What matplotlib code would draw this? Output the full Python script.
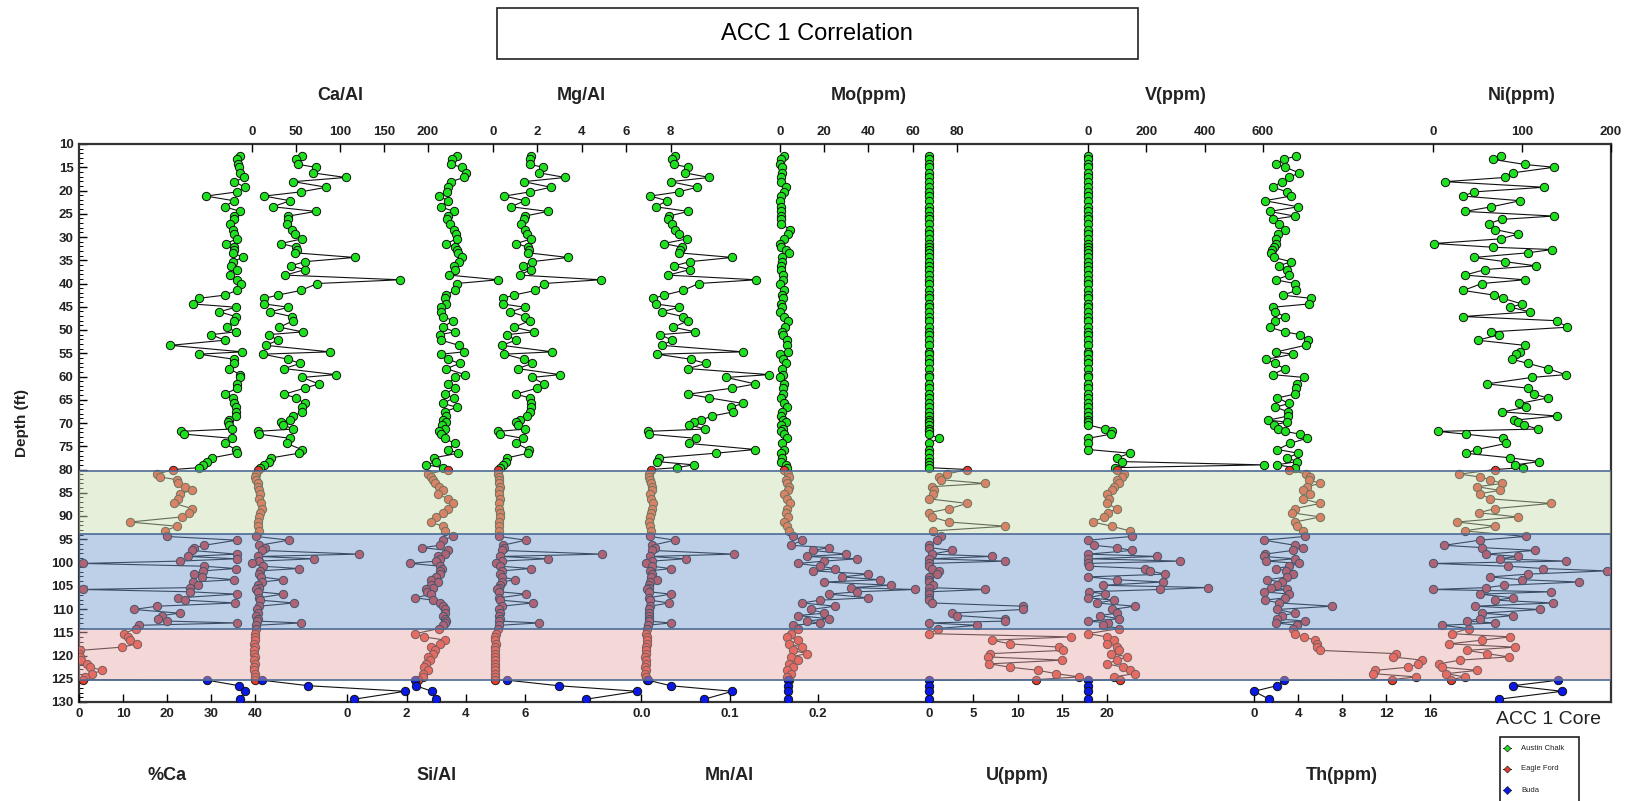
import matplotlib
matplotlib.use('Agg')
import matplotlib.pyplot as plt
from matplotlib.patches import Rectangle
from matplotlib.lines import Line2D
import matplotlib.transforms as mtransforms

plt.rcParams['font.family'] = ['Liberation Sans', 'DejaVu Sans']

# ---------------- data ----------------
# Austin Chalk (green) sample depths, ft
G_DEPTH = [12.6, 13.3, 14.4, 15.0, 16.2, 17.2, 18.1, 19.3, 20.3, 21.2, 22.2, 23.5,
           24.5, 25.5, 26.2, 27.1, 28.4, 29.4, 30.4, 31.4, 32.2, 32.7, 33.4, 34.4,
           35.3, 36.2, 37.0, 38.2, 39.2, 40.0, 41.5, 42.5, 43.2, 44.4, 45.1, 46.1,
           47.1, 48.0, 49.4, 50.4, 51.0, 52.2, 53.3, 54.7, 55.2, 56.3, 57.2, 58.3,
           59.6, 60.2, 61.6, 62.5, 63.8, 64.6, 65.8, 66.6, 67.6, 68.5, 69.4, 69.8,
           70.4, 71.3, 71.8, 72.4, 73.3, 74.4, 75.7, 76.5, 77.5, 78.3, 79.0, 79.6]
# Eagle Ford (red) sample depths
R_DEPTH = [80.0, 81.0, 81.6, 82.2, 83.0, 83.7, 84.5, 85.2, 86.3, 87.3, 88.4, 89.3, 90.2, 91.3, 92.2, 93.2,
           94.4, 95.2, 96.3, 96.8, 97.4, 98.2, 98.7, 99.2, 99.7, 100.2, 100.8, 101.3, 101.8, 102.5, 103.1, 103.7, 104.2,
           104.9, 105.4, 105.8, 106.3, 106.8, 107.6, 108.1, 108.7, 109.4, 110.1, 110.9, 111.4, 112.1, 112.6, 113.0, 113.5, 114.2,
           115.3, 116.0, 116.7, 117.5, 118.2, 118.9, 119.6, 120.3, 121.0, 121.8, 122.5, 123.2, 123.9, 124.6, 125.2]
# Buda (blue) sample depths
B_DEPTH = [125.3, 126.5, 127.7, 129.4]

CA_PCT_G = [36.4, 35.8, 36.1, 36.2, 36.4, 37.5, 35.2, 37.6, 35.8, 28.8, 35.1, 33.0,
            36.6, 35.2, 35.1, 34.3, 34.8, 35.2, 35.7, 33.4, 35.1, 35.2, 34.9, 37.2,
            34.8, 34.5, 35.8, 34.2, 35.8, 36.7, 35.8, 33.0, 27.1, 25.8, 35.5, 31.8,
            35.5, 35.2, 33.6, 35.5, 30.0, 33.0, 20.7, 37.0, 27.1, 35.2, 35.1, 33.9,
            36.6, 36.4, 35.7, 35.9, 33.0, 34.8, 35.1, 35.6, 35.6, 35.6, 34.1, 33.8,
            33.9, 34.7, 23.1, 23.9, 34.7, 33.0, 35.5, 35.7, 30.1, 29.0, 28.0, 27.3]
CA_PCT_R = [21.4, 17.7, 18.3, 22.2, 22.4, 24.0, 25.6, 22.8, 22.5, 21.6, 25.6, 25.0, 23.3, 11.5, 22.2, 19.4,
            19.9, 35.7, 28.4, 26.1, 25.5, 35.7, 24.8, 35.7, 22.8, 0.8, 28.4, 35.5, 28.0, 26.1, 27.8, 35.2, 25.9,
            27.0, 25.2, 0.8, 25.2, 35.7, 22.5, 24.0, 35.4, 17.7, 12.4, 22.8, 18.8, 18.0, 20.0, 35.7, 13.7, 13.0,
            10.1, 11.0, 11.5, 13.2, 9.8, 0.2, 0.0, 0.2, 0.5, 1.9, 2.5, 5.3, 3.0, 1.4, 0.8]
CA_PCT_B = [29.0, 36.3, 37.7, 36.6]

CA_AL_G = [57.1, 50.0, 52.6, 72.2, 68.8, 106.4, 47.0, 84.6, 55.3, 13.9, 43.2, 23.7,
           72.6, 41.4, 40.6, 39.5, 45.1, 48.9, 57.1, 32.7, 50.0, 50.8, 48.9, 116.5,
           60.2, 44.0, 60.2, 38.0, 168.4, 74.4, 55.3, 29.3, 13.9, 13.9, 41.4, 20.7,
           45.1, 47.0, 31.2, 57.5, 18.8, 29.3, 15.8, 88.3, 12.0, 41.4, 54.5, 36.5,
           95.1, 57.1, 75.9, 60.2, 36.5, 50.0, 60.2, 57.1, 57.1, 47.0, 43.2, 33.1,
           35.7, 47.0, 6.4, 8.3, 43.2, 39.5, 56.4, 53.0, 22.0, 19.3, 13.6, 9.0]
CA_AL_R = [6.8, 5.0, 3.4, 5.0, 6.8, 7.0, 8.0, 9.0, 8.0, 9.7, 10.8, 9.0, 8.0, 6.8, 6.8, 8.0,
           5.0, 42.0, 8.0, 14.8, 10.8, 121.6, 6.8, 70.5, 8.0, 0.0, 12.0, 53.0, 9.0, 8.0, 10.0, 35.0, 10.8,
           6.8, 8.0, 5.0, 7.0, 35.0, 8.0, 9.0, 47.7, 8.0, 6.0, 6.8, 5.0, 7.0, 6.0, 56.0, 5.0, 4.0,
           3.0, 3.5, 3.0, 2.5, 3.0, 2.5, 2.5, 3.0, 2.5, 3.0, 2.5, 2.5, 3.0, 3.0, 3.0]
CA_AL_B = [10.8, 64.0, 174.0, 116.0]

SI_AL_G = [3.70, 3.54, 3.51, 3.88, 4.02, 3.93, 3.51, 3.40, 3.38, 3.09, 3.40, 3.15,
           3.60, 3.40, 3.37, 3.46, 3.60, 3.66, 3.70, 3.34, 3.63, 3.69, 3.74, 3.88,
           3.77, 3.60, 3.63, 3.44, 5.10, 3.70, 3.63, 3.34, 3.31, 3.34, 3.18, 3.18,
           3.23, 3.57, 3.23, 3.63, 3.12, 3.18, 3.77, 3.93, 3.18, 3.40, 3.80, 3.34,
           3.97, 3.63, 3.40, 3.63, 3.29, 3.60, 3.23, 3.70, 3.29, 3.32, 3.23, 3.34,
           3.21, 3.29, 3.08, 3.18, 3.29, 3.63, 3.40, 3.74, 2.92, 3.00, 2.67, 3.23]
SI_AL_R = [3.39, 2.72, 2.81, 2.90, 2.97, 3.10, 3.23, 3.06, 3.39, 3.56, 3.39, 3.23, 3.00, 2.81, 3.23, 3.31,
           3.56, 3.23, 3.14, 2.52, 3.39, 3.30, 3.06, 3.14, 3.00, 2.13, 3.14, 3.20, 3.14, 3.14, 3.00, 2.81, 3.06,
           2.81, 2.90, 2.64, 2.70, 2.81, 2.30, 2.90, 3.14, 3.23, 3.30, 3.31, 3.23, 3.31, 3.35, 3.30, 3.23, 3.10,
           2.30, 2.60, 3.31, 3.14, 2.81, 2.97, 2.90, 2.72, 2.80, 2.64, 2.60, 2.72, 2.55, 2.55, 2.39]
SI_AL_B = [2.30, 2.31, 2.86, 2.98]

MG_AL_G = [1.73, 1.67, 1.67, 2.27, 2.08, 3.26, 1.39, 2.61, 1.67, 0.53, 1.44, 0.83,
           2.48, 1.44, 1.39, 1.29, 1.44, 1.52, 1.74, 1.06, 1.59, 1.62, 1.59, 3.39,
           1.77, 1.36, 1.70, 1.24, 4.85, 2.30, 1.92, 0.94, 0.45, 0.45, 1.44, 0.79,
           1.47, 1.67, 0.97, 1.85, 0.64, 1.03, 0.41, 2.68, 0.53, 1.39, 1.77, 1.12,
           3.02, 1.77, 2.30, 2.00, 1.03, 1.67, 1.70, 1.73, 1.67, 1.55, 1.24, 1.06,
           1.14, 1.47, 0.26, 0.33, 1.36, 1.06, 1.62, 1.59, 0.64, 0.60, 0.45, 0.34]
MG_AL_R = [0.23, 0.25, 0.30, 0.28, 0.30, 0.32, 0.30, 0.30, 0.35, 0.30, 0.30, 0.35, 0.32, 0.30, 0.30, 0.30,
           0.30, 1.48, 0.45, 0.50, 0.40, 4.90, 0.35, 2.50, 0.40, 0.15, 0.35, 1.70, 0.40, 0.35, 0.40, 1.00, 0.40,
           0.35, 0.30, 0.20, 0.30, 1.50, 0.30, 0.35, 1.80, 0.40, 0.30, 0.35, 0.30, 0.35, 0.30, 2.10, 0.30, 0.25,
           0.15, 0.12, 0.12, 0.15, 0.12, 0.12, 0.10, 0.12, 0.10, 0.12, 0.10, 0.10, 0.10, 0.10, 0.12]
MG_AL_B = [0.64, 2.96, 6.50, 4.20]

MN_AL_G = [0.038, 0.035, 0.037, 0.053, 0.049, 0.077, 0.033, 0.063, 0.042, 0.010, 0.029, 0.016,
           0.053, 0.031, 0.030, 0.035, 0.038, 0.043, 0.052, 0.025, 0.046, 0.044, 0.042, 0.103,
           0.055, 0.037, 0.055, 0.030, 0.130, 0.065, 0.047, 0.026, 0.013, 0.016, 0.043, 0.023,
           0.047, 0.053, 0.036, 0.061, 0.021, 0.035, 0.023, 0.115, 0.018, 0.056, 0.073, 0.053,
           0.145, 0.096, 0.129, 0.103, 0.053, 0.077, 0.115, 0.101, 0.104, 0.080, 0.067, 0.060,
           0.054, 0.072, 0.007, 0.008, 0.062, 0.054, 0.129, 0.084, 0.020, 0.018, 0.059, 0.040]
MN_AL_R = [0.011, 0.008, 0.009, 0.010, 0.011, 0.012, 0.012, 0.010, 0.011, 0.013, 0.012, 0.011, 0.010, 0.009, 0.010, 0.011,
           0.010, 0.038, 0.012, 0.015, 0.012, 0.105, 0.010, 0.050, 0.012, 0.005, 0.012, 0.033, 0.010, 0.012, 0.011, 0.018, 0.010,
           0.009, 0.008, 0.006, 0.009, 0.033, 0.008, 0.010, 0.031, 0.010, 0.008, 0.009, 0.008, 0.009, 0.008, 0.033, 0.007, 0.006,
           0.005, 0.006, 0.006, 0.006, 0.005, 0.005, 0.005, 0.004, 0.005, 0.005, 0.004, 0.005, 0.004, 0.005, 0.006]
MN_AL_B = [0.007, 0.033, 0.103, 0.071]

MO_G = [1.8, 0.3, 0.0, 0.7, 0.7, 0.3, 0.3, 2.7, 1.8, 0.3, 0.0, 0.5,
        0.3, 0.3, 0.3, 0.5, 4.4, 3.7, 1.8, 0.0, 0.5, 2.7, 4.0, 0.7,
        1.0, 0.3, 0.5, 1.2, 1.2, 0.0, 1.8, 0.7, 1.2, 0.5, 0.7, 0.0,
        1.8, 3.7, 2.2, 0.7, 1.2, 3.3, 3.0, 3.7, 0.0, 1.2, 2.7, 0.7,
        1.2, 0.0, 1.8, 1.2, 1.2, 0.3, 1.8, 3.3, 0.7, 0.3, 1.2, 2.7,
        0.3, 1.5, 0.5, 2.0, 3.0, 1.0, 2.0, 0.5, 1.0, 0.5, 2.5, 3.0]
MO_R = [2.0, 3.5, 4.0, 2.5, 3.0, 4.0, 3.5, 2.0, 3.0, 4.5, 3.0, 2.5, 3.5, 2.0, 3.0, 4.0,
        6.0, 10.0, 5.0, 22.0, 15.0, 30.0, 12.0, 35.0, 20.0, 8.0, 18.0, 25.0, 15.0, 40.0, 28.0, 45.0, 20.0,
        50.0, 32.0, 61.0, 35.0, 22.0, 40.0, 18.0, 10.0, 25.0, 14.0, 20.0, 8.0, 22.0, 12.0, 18.0, 6.0, 8.0,
        5.0, 3.0, 8.0, 4.0, 10.0, 6.0, 12.0, 5.0, 8.0, 4.0, 6.0, 3.0, 5.0, 3.0, 4.0]
MO_B = [3.8, 3.8, 3.8, 3.8]

U_G = [0.0] * 12 + [0.0] * 12 + [0.0] * 12 + [0.0] * 12 + [0.0] * 12 + \
      [0.0, 0.0, 0.0, 0.0, 1.1, 0.0, 0.0, 0.0, 0.0, 0.0, 0.0, 0.0]
U_R = [4.3, 2.0, 1.1, 1.4, 6.3, 0.3, 0.6, 0.5, 0.0, 4.3, 2.3, 0.0, 0.3, 2.3, 8.6, 0.5,
       1.4, 0.9, 0.0, 0.0, 2.6, 0.3, 7.1, 0.0, 8.6, 0.0, 0.0, 0.3, 1.1, 0.9, 0.0, 0.0, 0.0,
       0.5, 0.0, 6.3, 0.0, 0.0, 0.0, 0.0, 0.3, 10.6, 10.6, 2.6, 3.1, 8.6, 8.6, 0.0, 5.4, 1.0,
       0.0, 16.0, 7.1, 9.1, 14.6, 15.1, 6.9, 6.6, 15.0, 6.8, 9.1, 12.3, 14.3, 16.9, 12.0]
U_B = [0.0, 0.0, 0.0, 0.0]

V_G = [0.0] * 12 + [0.0] * 12 + [0.0] * 12 + [0.0] * 12 + [0.0] * 12 + \
      [0.0, 58.0, 82.0, 79.0, 0.0, 0.0, 0.0, 144.0, 99.0, 117.0, 603.0, 94.0]
V_R = [99, 125, 117, 99, 108, 90, 82, 64, 73, 64, 99, 70, 56, 17, 82, 143,
       151, 0, 21, 99, 151, 0, 238, 0, 317, 0, 3.5, 195, 212, 264, 0, 100, 256,
       50, 412, 247, 3.5, 60, 0, 90, 30, 160, 82, 99, 40, 108, 0, 70, 50, 108,
       0, 64, 90, 64, 99, 108, 80, 134, 100, 64, 120, 143, 160, 90, 110]
V_B = [0.0, 0.0, 0.0, 0.0]

TH_G = [3.85, 2.69, 2.03, 2.85, 4.08, 3.18, 2.52, 1.70, 3.02, 3.35, 0.97, 4.01,
        1.43, 3.68, 1.70, 2.30, 2.85, 2.19, 2.03, 2.03, 1.80, 1.60, 1.53, 1.79,
        3.35, 2.26, 3.02, 3.18, 1.96, 3.68, 3.85, 2.59, 5.17, 5.00, 1.70, 1.93,
        2.79, 1.86, 1.43, 2.79, 4.18, 4.90, 4.67, 2.03, 3.51, 1.13, 1.86, 2.79,
        1.70, 4.51, 3.91, 3.78, 3.68, 2.13, 3.18, 1.93, 3.12, 3.08, 1.27, 3.02,
        1.79, 2.19, 2.79, 4.18, 4.77, 3.25, 2.13, 4.01, 3.02, 3.90, 2.07, 3.70]
TH_R = [3.2, 4.7, 5.1, 5.0, 6.0, 4.8, 4.4, 5.1, 4.4, 6.0, 3.7, 3.4, 6.0, 3.7, 3.9, 4.4,
        4.6, 0.9, 3.7, 4.4, 3.5, 1.0, 0.9, 3.7, 1.1, 4.1, 3.2, 2.0, 2.9, 3.5, 3.0, 1.2, 2.5,
        2.1, 1.5, 3.0, 0.9, 3.2, 2.8, 1.0, 2.3, 7.1, 2.1, 3.7, 2.5, 2.1, 4.6, 2.0, 3.9, 3.5,
        3.7, 4.5, 5.5, 5.7, 5.7, 6.0, 12.9, 12.6, 15.2, 14.9, 14.0, 11.0, 10.8, 14.7, 12.5]
TH_B = [2.76, 2.07, 0.0, 1.38]

NI_G = [75.9, 67.3, 103.0, 136.0, 89.8, 80.8, 13.5, 125.0, 46.0, 34.0, 98.0, 65.7,
        36.0, 136.0, 77.6, 62.4, 69.8, 95.0, 75.9, 1.2, 67.3, 134.0, 106.5, 46.0,
        80.8, 115.5, 58.4, 36.0, 103.0, 55.0, 34.0, 68.6, 78.8, 100.0, 87.0, 109.0,
        34.0, 139.0, 151.0, 65.7, 74.7, 50.2, 103.0, 98.0, 93.0, 89.0, 107.0, 129.0,
        149.0, 111.0, 60.4, 106.5, 113.0, 129.0, 97.0, 105.0, 78.0, 139.0, 91.0, 96.0,
        102.4, 117.6, 5.3, 37.0, 78.8, 82.0, 49.4, 37.0, 87.0, 119.6, 92.6, 101.0]
NI_R = [69.7, 29.7, 52.6, 64, 78, 49.7, 75, 52.6, 64, 132.6, 69.7, 51.4, 95, 26.9, 69.7, 35.4,
        104, 52.6, 12.6, 55, 115, 60, 95, 75, 150, 0, 84, 124, 195, 107, 64, 100, 164,
        80, 60, 0, 132.6, 52.6, 89.7, 70, 135, 46.9, 120, 55, 90, 52.6, 38, 70, 9.7, 40,
        21, 87, 55, 18, 92.6, 38, 61, 85, 30, 6.9, 9.7, 50, 15, 35.4, 20]
NI_B = [141.0, 89.7, 145.0, 74.0]

# zone boundaries (ft)
ZONE_TOPS = [80.3, 93.8, 114.4]
ZONE_BOTS = [93.8, 114.4, 125.3]
ZONE_COLORS = ['#c9dcae', '#6f98cc', '#e6aaa8']

LEGEND_NAMES = ['Austin Chalk', 'Eagle Ford', 'Buda']

# ---------------- layout ----------------
W, H = 1627, 801
L, R, T, B = 79, 1611, 144, 702
fig = plt.figure(figsize=(W / 100, H / 100), dpi=100)
fig.patch.set_facecolor('white')
ax0 = fig.add_axes([L / W, 1 - B / H, (R - L) / W, (B - T) / H])
ax0.set_ylim(130, 10)
ax0.set_xlim(0, 1)
ax0.set_xticks([])
ax0.set_yticks(range(10, 131, 5))
ax0.set_yticks(range(10, 131, 1), minor=True)
ax0.tick_params(axis='y', which='major', direction='in', length=6, width=1, pad=4,
                labelsize=9.5, labelcolor='#222222')
ax0.tick_params(axis='y', which='minor', direction='in', length=3, width=0.7)
for lab in ax0.get_yticklabels():
    lab.set_fontweight('bold')
for sp in ax0.spines.values():
    sp.set_linewidth(1.6)
    sp.set_color('#333333')

GREEN = '#1fe01f'
RED = '#e5392c'
BLUE = '#0a18e8'

tracks = [
    ('%Ca', 'bottom', (0, 79, 40, 255.5), [0, 10, 20, 30, 40], None, CA_PCT_G, CA_PCT_R, CA_PCT_B),
    ('Ca/Al', 'top', (0, 252, 200, 428), [0, 50, 100, 150, 200], None, CA_AL_G, CA_AL_R, CA_AL_B),
    ('Si/Al', 'bottom', (0, 347.5, 6, 524.8), [0, 2, 4, 6], None, SI_AL_G, SI_AL_R, SI_AL_B),
    ('Mg/Al', 'top', (0, 492.7, 8, 670.7), [0, 2, 4, 6, 8], None, MG_AL_G, MG_AL_R, MG_AL_B),
    ('Mn/Al', 'bottom', (0, 641.5, 0.2, 818), [0, 0.1, 0.2], ['0.0', '0.1', '0.2'], MN_AL_G, MN_AL_R, MN_AL_B),
    ('Mo(ppm)', 'top', (0, 780, 80, 957), [0, 20, 40, 60, 80], None, MO_G, MO_R, MO_B),
    ('U(ppm)', 'bottom', (0, 929, 20, 1106.6), [0, 5, 10, 15, 20], None, U_G, U_R, U_B),
    ('V(ppm)', 'top', (0, 1088, 600, 1263), [0, 200, 400, 600], None, V_G, V_R, V_B),
    ('Th(ppm)', 'bottom', (0, 1254, 16, 1430.5), [0, 4, 8, 12, 16], None, TH_G, TH_R, TH_B),
    ('Ni(ppm)', 'top', (0, 1433, 200, 1611), [0, 100, 200], None, NI_G, NI_R, NI_B),
]

TOP_LABEL_Y = 1 + (T - 96) / (B - T)
BOT_LABEL_Y = -(776 - B) / (B - T)

for name, side, (v0, p0, v1, p1), ticks, tlabels, g, r, b in tracks:
    ax = ax0.twiny()
    s = (p1 - p0) / (v1 - v0)
    ax.set_xlim(v0 - (p0 - L) / s, v0 + (R - p0) / s)
    for sp in ax.spines.values():
        sp.set_visible(False)
    if side == 'bottom':
        ax.xaxis.tick_bottom()
    else:
        ax.xaxis.tick_top()
    ax.set_xticks(ticks)
    ax.set_xticklabels(tlabels if tlabels else [str(t) for t in ticks])
    ax.tick_params(axis='x', direction='in', length=6, width=1, pad=4,
                   labelsize=9.5, labelcolor='#222222')
    for lab in ax.get_xticklabels():
        lab.set_fontweight('bold')
    xs = list(g) + list(r) + list(b)
    ys = list(G_DEPTH) + list(R_DEPTH) + list(B_DEPTH)
    ax.plot(xs, ys, color='#111111', lw=0.8, zorder=2, clip_on=False)
    ax.plot(g, G_DEPTH, ls='none', marker='o', ms=6, mfc=GREEN, mec='#111111', mew=0.7, zorder=3)
    ax.plot(r, R_DEPTH, ls='none', marker='o', ms=6, mfc=RED, mec='#222222', mew=0.7, zorder=3)
    ax.plot(b, B_DEPTH, ls='none', marker='o', ms=6, mfc=BLUE, mec='#111111', mew=0.7, zorder=3)
    trans = mtransforms.blended_transform_factory(ax.transData, ax.transAxes)
    ly = TOP_LABEL_Y if side == 'top' else BOT_LABEL_Y
    ax.text((v0 + v1) / 2, ly, name, transform=trans, ha='center', va='center',
            fontsize=13, fontweight='bold', color='#222222', clip_on=False)

# translucent zone overlay (drawn above the data)
ov = ax0.twiny()
ov.set_xlim(0, 1)
ov.set_xticks([])
for sp in ov.spines.values():
    sp.set_visible(False)
for top, bot, col in zip(ZONE_TOPS, ZONE_BOTS, ZONE_COLORS):
    ov.axhspan(top, bot, color=col, alpha=0.45, lw=0, zorder=5)
for yb in sorted(set(ZONE_TOPS + ZONE_BOTS)):
    ov.axhline(yb, color='#4d6b94', lw=1.2, zorder=6)

# title box
fig.add_artist(Rectangle((497 / W, 1 - 59 / H), (1138 - 497) / W, 51 / H,
                         transform=fig.transFigure, fill=False, ec='#222222', lw=1.2))
fig.text(817 / W, 1 - 34 / H, 'ACC 1 Correlation', ha='center', va='center', fontsize=17)

fig.text(22 / W, 1 - 423 / H, 'Depth (ft)', rotation=90, ha='center', va='center',
         fontsize=11, fontweight='bold', color='#222222')

fig.text(1548 / W, 1 - 720 / H, 'ACC 1 Core', ha='center', va='center', fontsize=14, color='#222222')

# legend box
fig.add_artist(Rectangle((1500 / W, 1 - 812 / H), 79 / W, 75 / H,
                         transform=fig.transFigure, fill=False, ec='#222222', lw=1.2))
for i, (nm, col) in enumerate(zip(LEGEND_NAMES, [GREEN, RED, BLUE])):
    yy = 1 - (748 + 21 * i) / H
    fig.add_artist(Line2D([1503 / W, 1511 / W], [yy, yy], transform=fig.transFigure,
                          color='#222222', lw=0.7))
    fig.add_artist(Line2D([1507 / W], [yy], transform=fig.transFigure, marker='D',
                          ms=4 if i == 2 else 3.5, mfc=col, mec='#222222', mew=0.5, ls='none'))
    fig.text(1521 / W, yy, nm, ha='left', va='center', fontsize=5.5, color='#222222')

fig.savefig('out.png', dpi=100, facecolor='white')
